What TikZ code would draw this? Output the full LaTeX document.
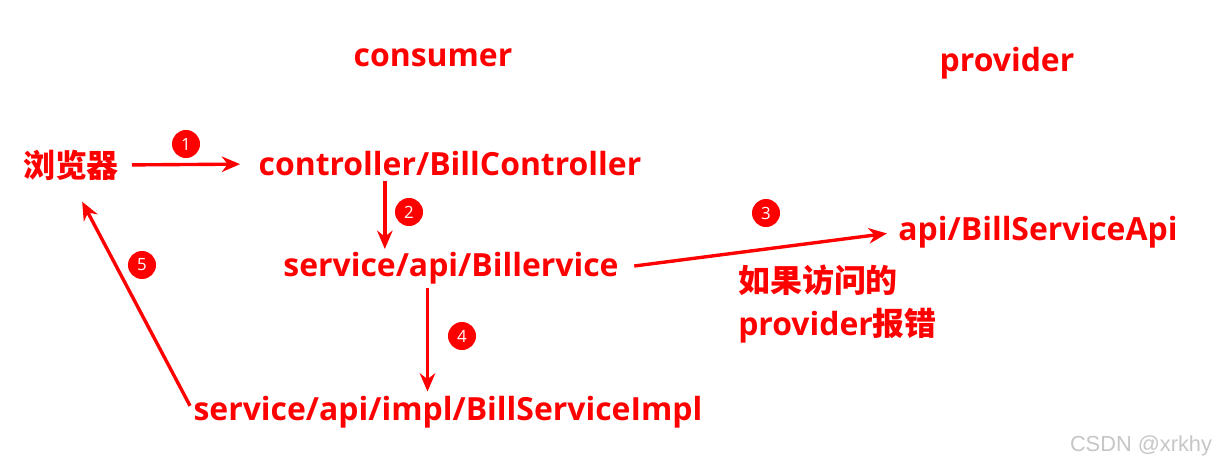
\documentclass[tikz,border=0pt]{standalone}
\usepackage{fontspec}
\setmainfont{Open Sans}
\newfontfamily\cjk{Noto Sans CJK SC}
\newfontfamily\wmfont{Liberation Sans}
\usetikzlibrary{arrows.meta,calc}

\begin{document}
\begin{tikzpicture}[x=0.025cm,y=-0.025cm,
  lbl/.style={text=red,font=\fontsize{22.7}{30.5}\selectfont\bfseries,inner sep=0pt},
  num/.style={circle,fill=red,minimum size=0.7cm,inner sep=0pt,text=white,font=\fontsize{12}{14}\selectfont},
  arr/.style={-{Stealth[length=13pt,width=11pt]},red,line width=2.4pt}]
  \useasboundingbox (0,0) rectangle (1217,466);
  % Column titles
  \node[lbl] (consumer) at (433,58) {consumer};
  \node[lbl] (provider) at (1007,63) {provider};
  % Call chain
  \node[lbl] (browser) at (71,165) {\cjk 浏览器};
  \node[lbl] (ctrl) at (450,164) {controller/BillController};
  \node[lbl] (svc) at (451,268) {service/api/Billervice};
  \node[lbl] (api) at (1038,232) {api/BillServiceApi};
  \node[lbl] (impl) at (448,412) {service/api/impl/BillServiceImpl};
  \node[lbl,align=left,anchor=west] (err) at (738,304) {{\cjk 如果访问的}\\provider{\cjk 报错}};
  % Step numbers
  \node[num] (n1) at (186,144) {1};
  \node[num] (n2) at (409,212) {2};
  \node[num] (n3) at (766,213) {3};
  \node[num] (n4) at (462,336) {4};
  \node[num] (n5) at (142,265) {5};
  % Connectors
  \draw[arr,shorten <=9pt,shorten >=13pt] (browser.east) -- (ctrl.west);
  \draw[arr,shorten <=3pt,shorten >=2pt] ($(ctrl.south west)!.33!(ctrl.south east)$) coordinate (c2) -- (c2 |- svc.north);
  \draw[arr,shorten <=11pt,shorten >=8pt] (svc.east) -- (api.west);
  \draw[arr,shorten <=3pt,shorten >=3pt] ($(svc.south west)!.43!(svc.south east)$) coordinate (c4) -- (c4 |- impl.north);
  \draw[arr,shorten <=5pt,shorten >=17pt] (impl.west) -- (browser.south);
  % Watermark
  \node[font=\wmfont\fontsize{15.5}{18}\selectfont,text=gray!45] (wm) at (1141,446) {CSDN @xrkhy};
\end{tikzpicture}
\end{document}
